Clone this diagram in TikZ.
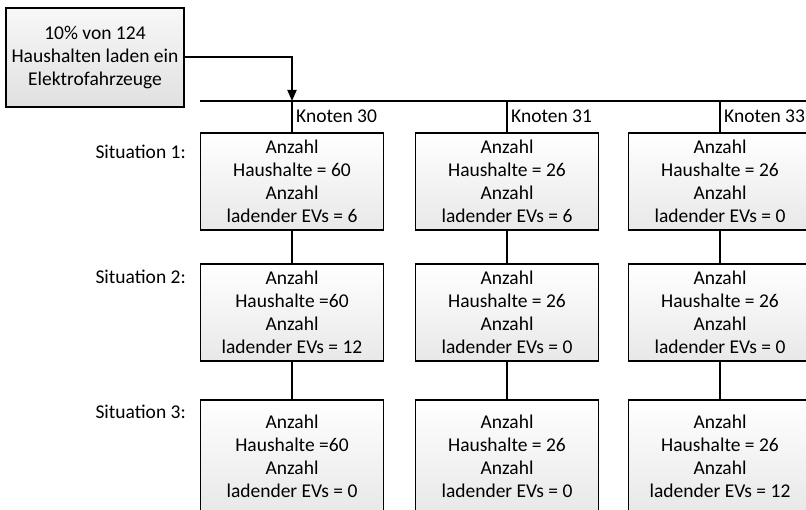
\documentclass[tikz,border=0pt]{standalone}
\usepackage{fontspec}
\setmainfont{Carlito}
\usetikzlibrary{arrows.meta, positioning}

\begin{document}
\begin{tikzpicture}[x=1pt, y=-1pt,
        box/.style={draw, line width=1.6pt, rectangle, minimum width=183, minimum height=97, inner sep=0pt,
            top color=white, bottom color=black!9, align=center, font=\fontsize{19.5}{23}\selectfont},
        knoten/.style={anchor=west, inner sep=0pt, font=\fontsize{19.5}{23}\selectfont},
        situation/.style={anchor=east, inner sep=0pt, font=\fontsize{19.5}{23}\selectfont},
        wire/.style={line width=1.8pt}
    ]
        \useasboundingbox (0,0) rectangle (806,510);
        \clip (0,0) rectangle (806,510);

        % Start
        \node[box, minimum width=178, minimum height=99, top color=black!3, bottom color=black!12] (start) at (95,57.5)
            {10\% von 124\\Haushalten laden ein\\Elektrofahrzeuge};

        % Bus
        \coordinate (bus30) at (292,101);
        \coordinate (bus31) at (507,101);
        \coordinate (bus33) at (720,101);
        \coordinate (busL) at (200,101);
        \coordinate (busR) at (820,101);
        \draw[wire] (busL) -- (busR);
        \draw[wire, -{Triangle[length=11pt, width=9pt]}] (start.east |- 0,57) -| (bus30);

        % Knoten
        \node[knoten] (k30) at (296,116) {Knoten 30};
        \node[knoten] (k31) at (511,116) {Knoten 31};
        \node[knoten] (k33) at (724,116) {Knoten 33};

        % Situationen
        \node[situation] (sit1) at (186,152) {Situation 1:};
        \node[situation] (sit2) at (186,277) {Situation 2:};
        \node[situation] (sit3) at (186,412) {Situation 3:};

        % Situation 1
        \node[box] (a30) at (292,181.5) {Anzahl\\Haushalte = 60\\Anzahl\\ladender EVs = 6};
        \node[box] (a31) at (507,181.5) {Anzahl\\Haushalte = 26\\Anzahl\\ladender EVs = 6};
        \node[box] (a33) at (720,181.5) {Anzahl\\Haushalte = 26\\Anzahl\\ladender EVs = 0};

        % Situation 2
        \node[box] (b30) at (292,312.5) {Anzahl\\Haushalte =60\\Anzahl\\ladender EVs = 12};
        \node[box] (b31) at (507,312.5) {Anzahl\\Haushalte = 26\\Anzahl\\ladender EVs = 0};
        \node[box] (b33) at (720,312.5) {Anzahl\\Haushalte = 26\\Anzahl\\ladender EVs = 0};

        % Situation 3
        \node[box, minimum height=112] (c30) at (292,456) {Anzahl\\Haushalte =60\\Anzahl\\ladender EVs = 0};
        \node[box, minimum height=112] (c31) at (507,456) {Anzahl\\Haushalte = 26\\Anzahl\\ladender EVs = 0};
        \node[box, minimum height=112] (c33) at (720,456) {Anzahl\\Haushalte = 26\\Anzahl\\ladender EVs = 12};

        % Verbindungen
        \draw[wire] (bus30) -- (a30.north -| bus30);
        \draw[wire] (bus31) -- (a31.north -| bus31);
        \draw[wire] (bus33) -- (a33.north -| bus33);
        \draw[wire] (a30) -- (b30);
        \draw[wire] (a31) -- (b31);
        \draw[wire] (a33) -- (b33);
        \draw[wire] (b30) -- (c30);
        \draw[wire] (b31) -- (c31);
        \draw[wire] (b33) -- (c33);

    \end{tikzpicture}
\end{document}
